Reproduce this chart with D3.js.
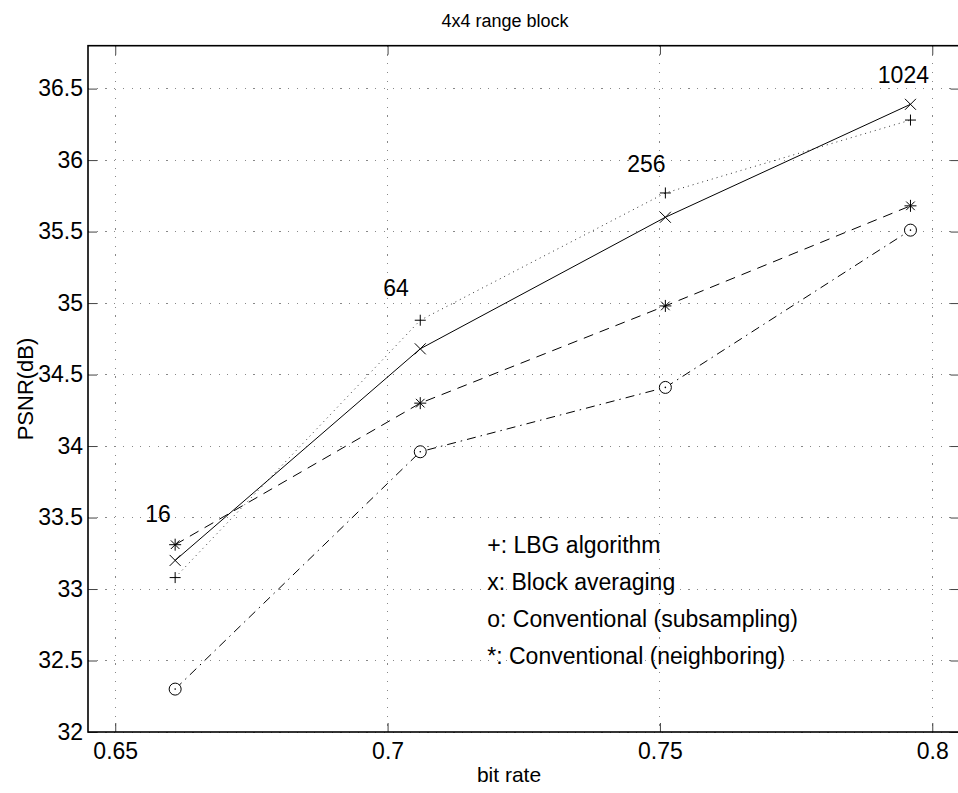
<!DOCTYPE html>
<html><head><meta charset="utf-8">
<script src="https://cdn.jsdelivr.net/npm/d3@7"></script>
<style>body{margin:0;background:#fff} text{font-family:"Liberation Sans",Arial,Helvetica,sans-serif;fill:#000}</style>
</head><body><svg id="c" width="958" height="793"></svg>
<script>
// ---- data ----
const bitRates = [0.661, 0.706, 0.751, 0.796];
const codebookSizes = ["16", "64", "256", "1024"];
const lbg = [33.08, 34.88, 35.77, 36.28];          // +  dotted
const blockAvg = [33.20, 34.68, 35.60, 36.39];     // x  solid
const subsampling = [32.30, 33.96, 34.41, 35.51];  // o  dash-dot
const neighboring = [33.31, 34.30, 34.98, 35.68];  // *  dashed
const xTicks = [0.65, 0.7, 0.75, 0.8];
const xTickLabels = ["0.65", "0.7", "0.75", "0.8"];
const yTicks = [32, 32.5, 33, 33.5, 34, 34.5, 35, 35.5, 36, 36.5];
const yTickLabels = ["32", "32.5", "33", "33.5", "34", "34.5", "35", "35.5", "36", "36.5"];
const sizeLabelX = [0.6555, 0.6992, 0.7440, 0.7900];
const sizeLabelY = [33.47, 35.05, 35.92, 36.54];
const legendLines = ["+: LBG algorithm", "x: Block averaging", "o: Conventional (subsampling)", "*: Conventional (neighboring)"];
const titleText = "4x4 range block";
const xLabel = "bit rate";
const yLabel = "PSNR(dB)";

// ---- layout ----
const L = 88, R = 959.5, T = 45.7, B = 732;
const x = d3.scaleLinear().domain([0.645, 0.805]).range([L, R]);
const y = d3.scaleLinear().domain([32, 36.8]).range([B, T]);
const svg = d3.select("#c");
const FS = 23;

// grid
const g = svg.append("g");
g.selectAll(".vg").data(xTicks).enter().append("line")
  .attr("x1", d => x(d)).attr("x2", d => x(d)).attr("y1", T).attr("y2", B)
  .attr("stroke", "#888").attr("stroke-width", 1).attr("stroke-dasharray", "1.2,7.5").attr("shape-rendering","crispEdges");
g.selectAll(".hg").data(yTicks).enter().append("line")
  .attr("y1", d => y(d)).attr("y2", d => y(d)).attr("x1", L).attr("x2", R)
  .attr("stroke", "#888").attr("stroke-width", 1).attr("stroke-dasharray", "1.2,7.5").attr("shape-rendering","crispEdges");

// axes (ticks inward)
const ax = svg.append("g");
ax.append("g").attr("transform", `translate(0,${B})`)
  .call(d3.axisBottom(x).tickValues(xTicks).tickSize(-9).tickPadding(11).tickFormat((d,i)=>xTickLabels[i]))
  .call(s=>{s.select(".domain").remove(); s.selectAll("line").attr("stroke","#444");
    s.selectAll("text").attr("font-size",FS).attr("fill","#000").attr("dy","0.71em");});
ax.append("g").attr("transform", `translate(0,${T})`)
  .call(d3.axisTop(x).tickValues(xTicks).tickSize(-9).tickFormat(""))
  .call(s=>{s.select(".domain").remove(); s.selectAll("line").attr("stroke","#444");});
ax.append("g").attr("transform", `translate(${L},0)`)
  .call(d3.axisLeft(y).tickValues(yTicks).tickSize(-9).tickPadding(5).tickFormat((d,i)=>yTickLabels[i]))
  .call(s=>{s.select(".domain").remove(); s.selectAll("line").attr("stroke","#444");
    s.selectAll("text").attr("font-size",FS).attr("fill","#000");});
ax.append("g").attr("transform", `translate(${R},0)`)
  .call(d3.axisRight(y).tickValues(yTicks).tickSize(-9).tickFormat(""))
  .call(s=>{s.select(".domain").remove(); s.selectAll("line").attr("stroke","#444");});
ax.append("rect").attr("x", L).attr("y", T).attr("width", R-L).attr("height", B-T)
  .attr("fill","none").attr("stroke","#000").attr("stroke-width",1.6);

// series
const series = [
  {vals: lbg, dash: "1,4", color: "#333", marker: "plus"},
  {vals: blockAvg, dash: null, color: "#000", marker: "cross"},
  {vals: subsampling, dash: "9,5,1.5,5", color: "#000", marker: "circle"},
  {vals: neighboring, dash: "10,7", color: "#000", marker: "star"}
];
const line = d3.line().x((d,i)=>x(bitRates[i])).y(d=>y(d));
series.forEach(s=>{
  svg.append("path").datum(s.vals).attr("d", line).attr("fill","none")
    .attr("stroke", s.color).attr("stroke-width", 1).attr("stroke-dasharray", s.dash);
});
function markerPath(type){
  const a=5.5, c=4.3, p=6;
  if(type==="plus") return `M${-a},0H${a}M0,${-a}V${a}`;
  if(type==="cross") return `M${-a},${-a}L${a},${a}M${-a},${a}L${a},${-a}`;
  if(type==="star") return `M${-p},0H${p}M0,${-p}V${p}M${-c},${-c}L${c},${c}M${-c},${c}L${c},${-c}`;
  return "";
}
series.forEach(s=>{
  const mg = svg.append("g");
  s.vals.forEach((v,i)=>{
    const cx = x(bitRates[i]), cy = y(v);
    if(s.marker==="circle"){
      mg.append("circle").attr("cx",cx).attr("cy",cy).attr("r",6).attr("fill","#fff").attr("stroke","#000").attr("stroke-width",1);
      mg.append("circle").attr("cx",cx).attr("cy",cy).attr("r",0.8).attr("fill","#000");
    } else {
      mg.append("path").attr("transform",`translate(${cx},${cy})`).attr("d",markerPath(s.marker))
        .attr("fill","none").attr("stroke","#000").attr("stroke-width",1);
    }
  });
});

// codebook size labels
svg.selectAll(".sz").data(codebookSizes).enter().append("text")
  .attr("x",(d,i)=>x(sizeLabelX[i])).attr("y",(d,i)=>y(sizeLabelY[i]))
  .attr("font-size",FS).text(d=>d);

// legend text
svg.selectAll(".lg").data(legendLines).enter().append("text")
  .attr("x", x(0.7183)).attr("y",(d,i)=>553 + i*37)
  .attr("font-size",FS).text(d=>d);

// titles
svg.append("text").attr("x",505).attr("y",27).attr("text-anchor","middle").attr("font-size",18).text(titleText);
svg.append("text").attr("x",509).attr("y",782).attr("text-anchor","middle").attr("font-size",21).text(xLabel);
svg.append("text").attr("transform","translate(33,389) rotate(-90)").attr("text-anchor","middle").attr("font-size",22).text(yLabel);
</script></body></html>
